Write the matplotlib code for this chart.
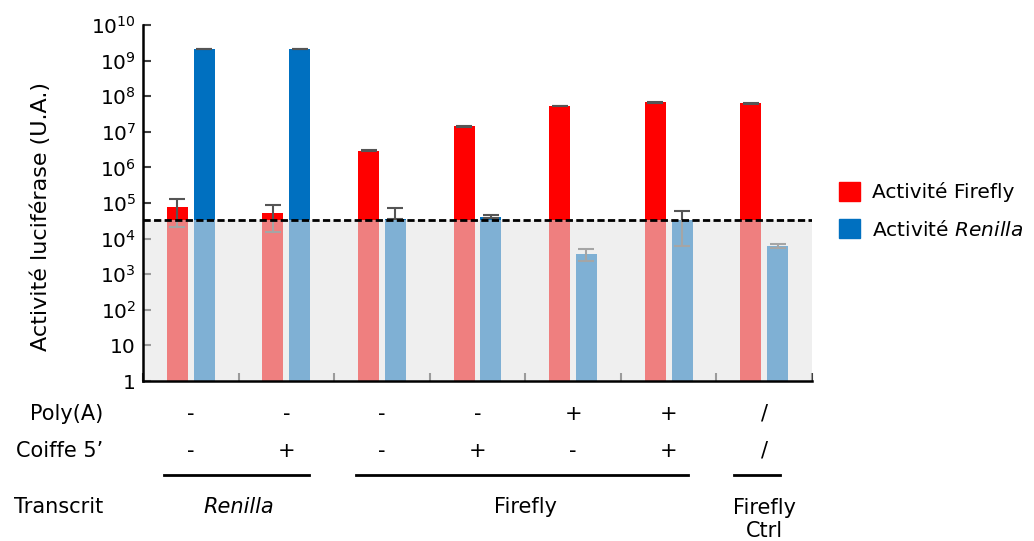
import matplotlib
matplotlib.use("Agg")
import matplotlib.pyplot as plt
import matplotlib.transforms as mtransforms
from matplotlib.patches import Patch
import numpy as np

plt.rcParams['font.family'] = ['DejaVu Sans']
plt.rcParams['mathtext.fontset'] = 'dejavusans'

# valeurs (U.A.)
firefly = [7.6e4, 5.1e4, 2.9e6, 1.45e7, 5.3e7, 6.7e7, 6.3e7]
firefly_lo = [2.1e4, 1.5e4, 2.8e6, 1.40e7, 5.2e7, 6.6e7, 6.2e7]
firefly_hi = [1.3e5, 9.0e4, 3.0e6, 1.50e7, 5.4e7, 6.8e7, 6.4e7]
renilla = [2.1e9, 2.1e9, 3.5e4, 4.1e4, 3.6e3, 3.3e4, 6.2e3]
renilla_lo = [2.05e9, 2.05e9, 3.5e4, 3.7e4, 2.4e3, 6.2e3, 5.3e3]
renilla_hi = [2.15e9, 2.15e9, 7.4e4, 4.6e4, 5.1e3, 6.1e4, 7.2e3]
seuil = 3.4e4  # bruit de fond

polyA = ['-', '-', '-', '-', '+', '+', '/']
coiffe = ['-', '+', '-', '+', '-', '+', '/']
transcrits = [('Renilla', 0.5, 'italic', -0.28, 1.24),
              ('Firefly', 3.5, 'normal', 1.73, 5.20),
              ('Firefly\nCtrl', 6.0, 'normal', 5.68, 6.17)]

RED = '#FF0000'
BLUE = '#0070C0'
ERR = '#555555'
FS = 15

fig = plt.figure(figsize=(10.34, 5.41), dpi=100)
ax = fig.add_axes([0.1383, 0.2957, 0.6470, 0.6581])

x = np.arange(len(firefly))
w = 0.22
off = 0.14

ff = np.array(firefly)
rn = np.array(renilla)
ax.bar(x - off, ff, w, color=RED, zorder=2)
ax.bar(x + off, rn, w, color=BLUE, zorder=2)
ax.errorbar(x - off, ff, yerr=[ff - np.array(firefly_lo), np.array(firefly_hi) - ff],
            fmt='none', ecolor=ERR, elinewidth=1.5, capsize=6, capthick=1.5, zorder=2.2)
ax.errorbar(x + off, rn, yerr=[rn - np.array(renilla_lo), np.array(renilla_hi) - rn],
            fmt='none', ecolor=ERR, elinewidth=1.5, capsize=6, capthick=1.5, zorder=2.2)

# zone sous le seuil, grisee
ax.axhspan(1, seuil, color='#E4E4E4', alpha=0.56, lw=0, zorder=3)
ax.axhline(seuil, color='black', lw=2, ls=(0, (2.6, 1.2)), zorder=4)

ax.set_yscale('log')
ax.set_ylim(1, 1e10)
ax.set_xlim(-0.5, 6.5)
yt = [10.0 ** k for k in range(11)]
ylab = ['1', '10'] + ['$\\mathregular{10^{%d}}$' % k for k in range(2, 11)]
ax.set_yticks(yt)
ax.set_yticklabels(ylab, fontsize=14.5)
ax.yaxis.set_minor_locator(matplotlib.ticker.NullLocator())
ax.set_xticks(np.arange(-0.5, 7, 1))
ax.set_xticklabels([])
ax.tick_params(axis='both', direction='in', length=6, width=1.5, color='#404040')
ax.tick_params(axis='y', pad=5)
for s in ['top', 'right']:
    ax.spines[s].set_visible(False)
for s in ['left', 'bottom']:
    ax.spines[s].set_linewidth(1.8)
    ax.spines[s].set_zorder(5)
ax.set_ylabel('Activité luciférase (U.A.)', fontsize=16)
ax.yaxis.set_label_coords(-0.138, 0.463)

# tableau sous le graphique
tr = mtransforms.blended_transform_factory(ax.transData, fig.transFigure)
fig.text(0.0996, 0.2348, 'Poly(A)', ha='right', va='center', fontsize=FS)
fig.text(0.0996, 0.1664, 'Coiffe 5’', ha='right', va='center', fontsize=FS)
fig.text(0.0996, 0.0628, 'Transcrit', ha='right', va='center', fontsize=FS)
for i in range(len(polyA)):
    ax.text(i, 0.2348, polyA[i], transform=tr, ha='center', va='center', fontsize=FS)
    ax.text(i, 0.1664, coiffe[i], transform=tr, ha='center', va='center', fontsize=FS)
for nom, xc, style, x0, x1 in transcrits:
    ax.plot([x0, x1], [0.122, 0.122], transform=tr, color='black', lw=2, clip_on=False)
    yc = 0.0398 if '\n' in nom else 0.0628
    ax.text(xc, yc, nom, transform=tr, ha='center', va='center', multialignment='center',
            fontsize=FS, style=style, linespacing=1.2)

handles = [Patch(color=RED, label='Activité Firefly'),
           Patch(color=BLUE, label='Activité $\\mathit{Renilla}$')]
fig.legend(handles=handles, loc='upper left', bbox_to_anchor=(0.794, 0.697), frameon=False,
           fontsize=14.5, handlelength=1.05, handleheight=1.05, handletextpad=0.6,
           labelspacing=0.85)

fig.savefig('out.png', dpi=100)
